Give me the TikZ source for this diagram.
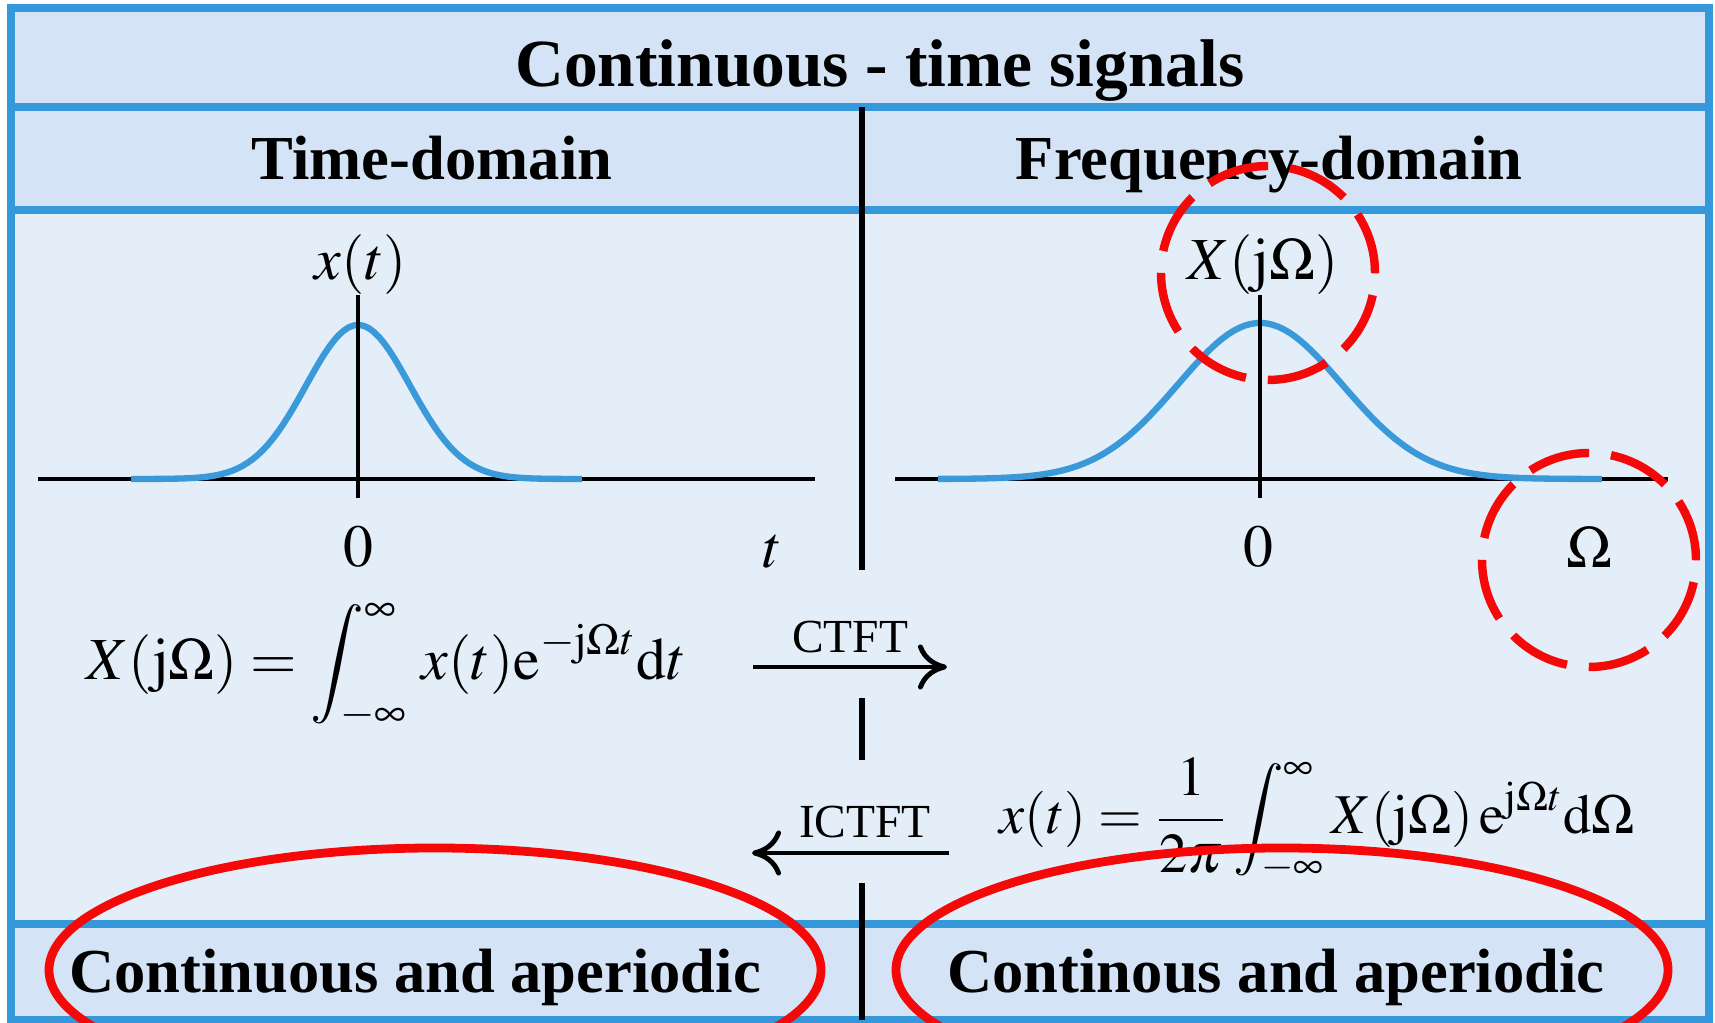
\documentclass[tikz,border=0pt]{standalone}
\usepackage{mathptmx}
\usepackage{fontspec}
\setmainfont{Liberation Serif}
\usetikzlibrary{arrows.meta}
\definecolor{border}{RGB}{52,152,219}
\definecolor{band}{RGB}{212,228,246}
\definecolor{panel}{RGB}{228,238,249}
\definecolor{wave}{RGB}{58,154,217}
\definecolor{redmark}{RGB}{245,8,8}
\tikzset{
  >={To[length=2.9mm,width=4.5mm]},
  rule/.style={draw=border,line width=8.5pt/3.5},
  divider/.style={line width=1.7pt},
  banner/.style={font=\fontsize{19.2}{22}\selectfont\bfseries,anchor=base},
  heading/.style={font=\fontsize{17.8}{20}\selectfont\bfseries,anchor=base},
  tick/.style={font=\fontsize{17}{20}\selectfont},
  eq/.style={font=\fontsize{#1}{20}\selectfont,anchor=west,inner sep=0pt},
  eq/.default=17,
  tf/.style={font=\fontsize{13.5}{16}\selectfont,anchor=base},
  axisline/.style={line width=1.3pt},
  signal/.style={draw=wave,line width=1.8pt},
  flow/.style={->,line width=1.4pt},
  ring/.style={draw=redmark,line width=2.4pt,dash pattern=on 0.62cm off 0.22cm},
  oval/.style={draw=redmark,line width=2.5pt},
}

\begin{document}
\begin{tikzpicture}
  \useasboundingbox (0,0) rectangle (17.15,10.23);
  \clip (0,0) rectangle (17.15,10.23);
  % table frame
  \fill[panel] (0.11,0.03) rectangle (17.09,10.15);
  \fill[band] (0.11,8.13) rectangle (17.09,10.15);
  \fill[band] (0.11,0.03) rectangle (17.09,0.99);
  \draw[rule] (0.11,0.03) rectangle (17.09,10.15);
  \draw[rule] (0.11,9.16) -- (17.09,9.16);
  \draw[rule] (0.11,8.13) -- (17.09,8.13);
  \draw[rule] (0.11,0.99) -- (17.09,0.99);
  \draw[divider] (8.62,9.16) -- (8.62,4.53) (8.62,3.25) -- (8.62,2.63) (8.62,1.40) -- (8.62,0.03);

  \node[banner] (title) at (8.80,9.36) {Continuous - time signals};
  \node[heading] (timehead) at (4.32,8.43) {Time-domain};
  \node[heading] (freqhead) at (12.69,8.43) {Frequency-domain};
  \node[heading] (timeclass) at (4.15,0.30) {Continuous and aperiodic};
  \node[heading] (freqclass) at (12.76,0.30) {Continous and aperiodic};

  % time-domain plot
  \draw[axisline] (0.38,5.44) -- (8.15,5.44);
  \draw[signal] plot[domain=1.31:5.82,samples=90] (\x,{5.44+1.54*exp(-(\x-3.58)*(\x-3.58)/0.5408)});
  \draw[axisline] (3.58,5.25) -- (3.58,7.28);
  \node[tick] (xt) at (3.61,7.58) {$x(t)$};
  \node[tick] (zt) at (3.58,4.76) {$0$};
  \node[tick] (tt) at (7.73,4.71) {$t$};

  % frequency-domain plot
  \draw[axisline] (8.95,5.44) -- (16.68,5.44);
  \draw[signal] plot[domain=9.38:16.02,samples=120] (\x,{5.44+1.56*exp(-(\x-12.60)*(\x-12.60)/1.3448)});
  \draw[axisline] (12.60,5.25) -- (12.60,7.28);
  \node[tick] (Xw) at (12.63,7.58) {$X(\mathrm{j}\Omega)$};
  \node[tick] (zw) at (12.58,4.76) {$0$};
  \node[tick] (ww) at (15.89,4.76) {$\Omega$};

  % transform pair
  \node[eq] (ctft) at (0.86,3.56)
    {$\displaystyle X(\mathrm{j}\Omega)=\int_{-\infty}^{\infty}\,x(t)\mathrm{e}^{-\mathrm{j}\Omega t}\mathrm{d}t$};
  \node[eq=16] (ictft) at (9.99,2.03)
    {$\displaystyle x(t)=\frac{1}{2\pi}\int_{-\infty}^{\infty}X(\mathrm{j}\Omega)\,\mathrm{e}^{\mathrm{j}\Omega t}\mathrm{d}\Omega$};
  \coordinate (ctfttail) at (7.53,3.56);
  \coordinate (ctfthead) at (9.47,3.56);
  \coordinate (ictfttail) at (9.49,1.70);
  \coordinate (ictfthead) at (7.52,1.70);
  \draw[flow] (ctfttail) -- (ctfthead);
  \draw[flow] (ictfttail) -- (ictfthead);
  \node[tf] (ctftlbl) at (8.50,3.70) {CTFT};
  \node[tf] (ictftlbl) at (8.65,1.85) {ICTFT};

  % highlights
  \draw[ring] (12.68,7.50) circle [radius=1.07];
  \draw[ring] (15.89,4.63) circle [radius=1.07];
  \draw[oval] (4.35,0.53) ellipse [x radius=3.86,y radius=1.22];
  \draw[oval] (12.82,0.53) ellipse [x radius=3.86,y radius=1.22];
\end{tikzpicture}
\end{document}
